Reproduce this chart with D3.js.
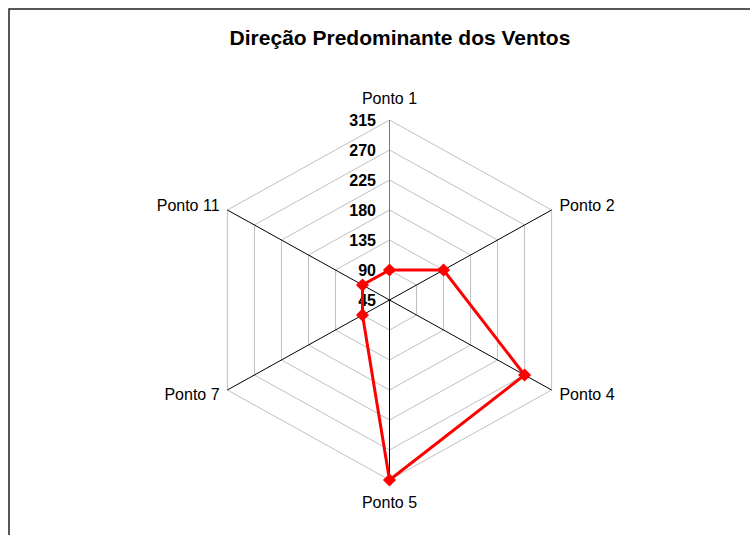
<html lang="pt">
<head>
  <meta charset="UTF-8">
  <title>Direção Predominante dos Ventos</title>
  <script src="https://d3js.org/d3.v7.min.js"></script>
</head>
<style>
  body { margin: 0; background: #fff; }
  text { font-family: "Liberation Sans", Arial, sans-serif; }
</style>
<body>
  <svg class="radar" width="750" height="535"></svg>
  <script>
    // data
    const pontos = ['Ponto 1', 'Ponto 2', 'Ponto 4', 'Ponto 5', 'Ponto 7', 'Ponto 11'];
    const direcao = [90, 135, 270, 315, 90, 90];
    const ticks = [45, 90, 135, 180, 225, 270, 315];

    const svg = d3.select('svg.radar');
    const cx = 389.5, cy = 300;
    const stretch = 1.04; // chart is a bit wider than tall
    const rScale = d3.scaleLinear().domain([45, 315]).range([0, 180]);
    const angle = d3.scaleLinear().domain([0, pontos.length]).range([0, 2 * Math.PI]);

    function pos(i, v) {
      const a = angle(i), r = rScale(v);
      return [cx + Math.sin(a) * r * stretch, cy - Math.cos(a) * r];
    }

    // outer frame
    svg.append('rect')
      .attr('x', 9).attr('y', 9)
      .attr('width', 760).attr('height', 560)
      .attr('fill', 'none')
      .attr('stroke', '#222')
      .attr('stroke-width', 1.5);

    svg.append('text')
      .attr('x', 400).attr('y', 45)
      .attr('text-anchor', 'middle')
      .style('font-size', '21px')
      .style('font-weight', 'bold')
      .text('Direção Predominante dos Ventos');

    // rings
    const ring = d3.line().curve(d3.curveLinearClosed);
    ticks.slice(1).forEach(t => {
      svg.append('path')
        .attr('d', ring(pontos.map((p, i) => pos(i, t))))
        .attr('fill', 'none')
        .attr('stroke', '#c0c0c0')
        .attr('stroke-width', 1);
    });

    // spokes
    pontos.forEach((p, i) => {
      const e = pos(i, 315);
      svg.append('line')
        .attr('x1', cx).attr('y1', cy)
        .attr('x2', e[0]).attr('y2', e[1])
        .attr('stroke', i == 0 ? '#777' : '#000')
        .attr('stroke-width', 1);

      const a = angle(i);
      const s = Math.sin(a), c = Math.cos(a);
      const off = Math.abs(s) < 0.1 ? 22 : 9;
      svg.append('text')
        .attr('x', e[0] + s * off)
        .attr('y', e[1] - c * off)
        .attr('text-anchor', Math.abs(s) < 0.1 ? 'middle' : (s > 0 ? 'start' : 'end'))
        .attr('dominant-baseline', 'central')
        .style('font-size', '16px')
        .text(p);
    });

    // value axis labels
    ticks.forEach(t => {
      svg.append('text')
        .attr('x', 376)
        .attr('y', cy - rScale(t))
        .attr('text-anchor', 'end')
        .attr('dominant-baseline', 'central')
        .style('font-size', '16px')
        .style('font-weight', 'bold')
        .text(t);
    });

    // series
    const pts = direcao.map((v, i) => pos(i, v));
    svg.append('path')
      .attr('d', ring(pts))
      .attr('fill', 'none')
      .attr('stroke', '#ff0000')
      .attr('stroke-width', 3)
      .attr('stroke-linejoin', 'miter');

    const sym = d3.symbol().type(d3.symbolDiamond2).size(110);
    pts.forEach(p => {
      svg.append('path')
        .attr('d', sym())
        .attr('transform', `translate(${p[0]},${p[1]})`)
        .attr('fill', '#ff0000');
    });
  </script>
</body>
</html>
